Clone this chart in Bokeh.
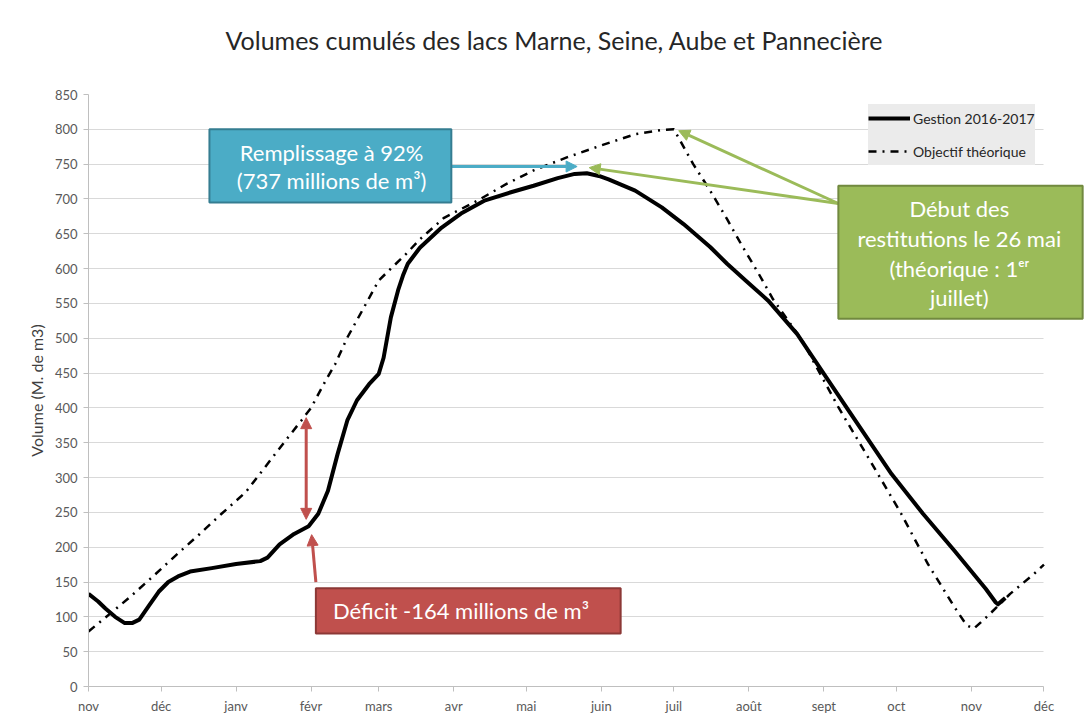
import pandas as pd
from bokeh.plotting import figure
from bokeh.models import (Range1d, FixedTicker, SingleIntervalTicker, BoxAnnotation,
                          Label, Arrow, NormalHead, Grid)
from bokeh.embed import file_html
from bokeh.resources import INLINE

# ---------------- data ----------------
gestion_dates = [
    "2016-11-01", "2016-11-05", "2016-11-08", "2016-11-12", "2016-11-16", "2016-11-19",
    "2016-11-22", "2016-11-26", "2016-11-30", "2016-12-04", "2016-12-08", "2016-12-13",
    "2016-12-22", "2017-01-01", "2017-01-11", "2017-01-14", "2017-01-19", "2017-01-25",
    "2017-01-31", "2017-02-04", "2017-02-08", "2017-02-12", "2017-02-16", "2017-02-20",
    "2017-02-25", "2017-03-01", "2017-03-03", "2017-03-06", "2017-03-09", "2017-03-11",
    "2017-03-13", "2017-03-18", "2017-03-27", "2017-04-04", "2017-04-14", "2017-04-25",
    "2017-05-04", "2017-05-14", "2017-05-21", "2017-05-26", "2017-05-31", "2017-06-04",
    "2017-06-15", "2017-06-26", "2017-07-05", "2017-07-16", "2017-07-23", "2017-07-31",
    "2017-08-09", "2017-08-21", "2017-09-02", "2017-09-13", "2017-09-29", "2017-10-12",
    "2017-10-25", "2017-11-07", "2017-11-11", "2017-11-12", "2017-11-14", "2017-11-15",
]
gestion_volumes = [
    133, 122, 112, 100, 91, 91,
    96, 116, 136, 150, 158, 165,
    170, 176, 180, 185, 204, 219,
    230, 248, 281, 334, 382, 411,
    434, 449, 472, 530, 569, 590,
    607, 630, 659, 679, 698, 710,
    719, 730, 736, 737, 733, 728,
    712, 688, 664, 631, 607, 582,
    554, 506, 444, 387, 305, 248,
    195, 140, 121, 118, 124, 127,
]

objectif_dates = [
    "2016-11-01", "2016-11-08", "2016-11-18", "2016-11-27", "2016-12-07", "2016-12-17",
    "2016-12-26", "2017-01-05", "2017-01-13", "2017-01-21", "2017-01-28", "2017-02-01",
    "2017-02-07", "2017-02-11", "2017-02-16", "2017-02-23", "2017-03-01", "2017-03-06",
    "2017-03-12", "2017-03-18", "2017-03-28", "2017-04-11", "2017-04-23", "2017-05-04",
    "2017-05-18", "2017-06-01", "2017-06-15", "2017-06-26", "2017-07-01", "2017-07-09",
    "2017-07-16", "2017-07-23", "2017-07-29", "2017-08-05", "2017-08-11", "2017-08-23",
    "2017-09-07", "2017-09-20", "2017-10-03", "2017-10-14", "2017-10-25", "2017-10-30",
    "2017-11-02", "2017-11-08", "2017-11-17", "2017-11-27", "2017-12-01",
]
objectif_volumes = [
    79, 99, 128, 156, 188, 219,
    248, 279, 315, 351, 382, 400,
    439, 463, 501, 545, 583, 600,
    620, 642, 673, 698, 722, 741,
    760, 777, 793, 799, 800, 750,
    712, 671, 634, 593, 556, 497,
    401, 325, 248, 176, 114, 88,
    83, 102, 133, 162, 175,
]

month_ticks = ["2016-11-01", "2016-12-01", "2017-01-01", "2017-02-01", "2017-03-01",
               "2017-04-01", "2017-05-01", "2017-06-01", "2017-07-01", "2017-08-01",
               "2017-09-01", "2017-10-01", "2017-11-01", "2017-12-01"]
month_labels = ["nov", "déc", "janv", "févr", "mars", "avr", "mai", "juin", "juil",
                "août", "sept", "oct", "nov", "déc"]

title_text = "Volumes cumulés des lacs Marne, Seine, Aube et Pannecière"
y_label = "Volume (M. de m3)"
series_names = ["Gestion 2016-2017", "Objectif théorique"]


def ms(d):
    return pd.Timestamp(d).value / 1e6


FONT = "Lato"
X_START, X_AXIS_END, X_VIEW_END = month_ticks[0], month_ticks[-1], "2017-12-19"
SHIFT = 16  # extra top border hidden above the window

p = figure(frame_width=999, frame_height=592, x_axis_type="datetime",
           x_range=Range1d(ms(X_START), ms(X_VIEW_END)),
           y_range=Range1d(0, 850),
           output_backend="svg", toolbar_location=None,
           min_border_left=88, min_border_right=4, min_border_top=94 + SHIFT,
           min_border_bottom=33, title=title_text)
p.styles = {"margin-top": f"-{SHIFT}px"}

p.line(pd.to_datetime(gestion_dates), gestion_volumes, line_width=4, line_color="black",
       line_join="round", legend_label=series_names[0])
p.line(pd.to_datetime(objectif_dates), objectif_volumes, line_width=2.5, line_color="black",
       line_dash="8 6 2 6", legend_label=series_names[1])

# axes
p.xaxis.ticker = FixedTicker(ticks=[ms(d) for d in month_ticks])
p.xaxis.major_label_overrides = {ms(d): l for d, l in zip(month_ticks, month_labels)}
p.xaxis.major_label_text_align = "left"
p.xaxis.bounds = (ms(X_START), ms(X_AXIS_END))
p.yaxis.ticker = SingleIntervalTicker(interval=50, num_minor_ticks=0)
for ax in (p.xaxis[0], p.yaxis[0]):
    ax.axis_line_color = "#bfbfbf"
    ax.major_tick_line_color = "#bfbfbf"
    ax.major_tick_in = 0
    ax.major_tick_out = 5
    ax.minor_tick_line_color = None
    ax.major_label_text_font = FONT
    ax.major_label_text_font_size = "13px"
    ax.major_label_text_color = "#595959"
p.xaxis.major_label_standoff = 6
p.yaxis.major_label_standoff = 6
p.yaxis.axis_label = y_label
p.yaxis.axis_label_text_font = FONT
p.yaxis.axis_label_text_font_size = "16px"
p.yaxis.axis_label_text_font_style = "normal"
p.yaxis.axis_label_text_color = "#404040"
p.yaxis.axis_label_standoff = 6

p.xgrid.grid_line_color = None
if "cross_bounds" in Grid.properties():
    p.ygrid.grid_line_color = "#d9d9d9"
    p.ygrid.cross_bounds = (ms(X_START), ms(X_AXIS_END))
else:
    p.ygrid.grid_line_color = None
    gy = list(range(50, 851, 50))
    p.segment(x0=[ms(X_START)] * len(gy), x1=[ms(X_AXIS_END)] * len(gy), y0=gy, y1=gy,
              line_color="#d9d9d9", line_width=1, level="underlay")
p.outline_line_color = None

p.title.text_font = FONT
p.title.text_font_size = "25px"
p.title.text_font_style = "normal"
p.title.text_color = "#262626"
p.title.align = "left"
p.title.offset = 137
p.title.vertical_align = "top"
p.title.standoff = 75

# legend
lg = p.legend[0]
lg.location = (780, 521)
lg.background_fill_color = "#ebebeb"
lg.background_fill_alpha = 1
lg.border_line_color = None
lg.label_text_font = FONT
lg.label_text_font_size = "14px"
lg.label_text_color = "#262626"
lg.glyph_width = 42
lg.glyph_height = 28
lg.label_height = 28
lg.spacing = 5
lg.padding = 0
lg.label_standoff = 3

# annotations
BLUE, BLUE_D = "#4BACC6", "#357D91"
GREEN, GREEN_D = "#9BBB59", "#71893F"
RED, RED_D = "#C0504D", "#8C3836"


def arrow(x0, y0, x1, y1, color, both=False):
    head = NormalHead(size=11, fill_color=color, line_color=color)
    kw = dict(end=head, x_start=ms(x0), y_start=y0, x_end=ms(x1), y_end=y1,
              line_color=color, line_width=3)
    if both:
        kw["start"] = NormalHead(size=11, fill_color=color, line_color=color)
    p.add_layout(Arrow(**kw))


arrow("2017-03-31", 746.6, "2017-05-22", 746.6, BLUE)
arrow("2017-09-07", 693.5, "2017-07-03", 798, GREEN)
arrow("2017-09-07", 693.5, "2017-05-27", 745, GREEN)
arrow("2017-01-30", 386, "2017-01-30", 240, RED, both=True)
arrow("2017-02-03", 150, "2017-02-01 06:00", 218, RED)


def box(l, r, b, t, fill, line):
    p.add_layout(BoxAnnotation(left=ms(l), right=ms(r), bottom=b, top=t,
                               fill_color=fill, fill_alpha=1, line_color=line,
                               line_width=2, line_alpha=1))


box("2016-12-21", "2017-03-31", 695, 800, BLUE, BLUE_D)
box("2017-09-07", "2017-12-17", 528, 719, GREEN, GREEN_D)
box("2017-02-03", "2017-06-09", 76, 141, RED, RED_D)


def label(x, y, text):
    p.add_layout(Label(x=ms(x), y=y, text=text, text_align="center", text_baseline="middle",
                       text_color="white", text_font=FONT, text_font_size="22px"))


label("2017-02-09 12:00", 767, "Remplissage à 92%")
label("2017-02-09 12:00", 726, "(737 millions de m³)")
label("2017-10-27", 686, "Début des")
label("2017-10-27", 643, "restitutions le 26 mai")
label("2017-10-27", 600, "(théorique : 1ᵉʳ")
label("2017-10-27", 558, "juillet)")
label("2017-04-04", 109, "Déficit -164 millions de m³")

open("out.html", "w").write(file_html(p, INLINE))
